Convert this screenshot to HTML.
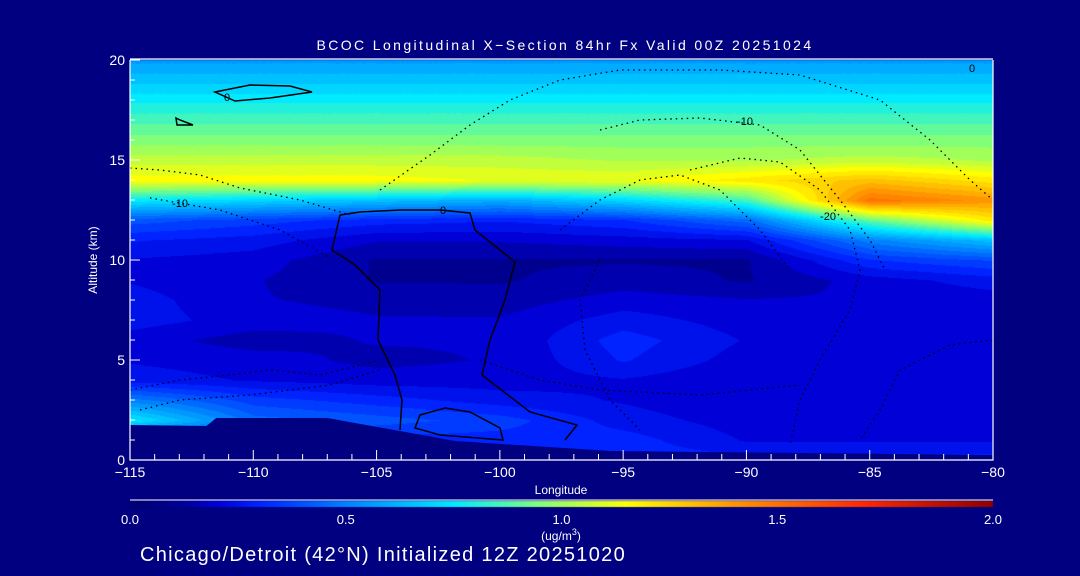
<!DOCTYPE html>
<html><head><meta charset="utf-8"><style>
html,body{margin:0;padding:0;background:#000080;}
#wrap{position:relative;width:1080px;height:576px;background:#000080;overflow:hidden;font-family:"Liberation Sans",sans-serif;color:#fff;}
canvas{position:absolute;left:0;top:0;}
svg{position:absolute;left:0;top:0;}
</style></head><body>
<div id="wrap">
<canvas id="cv" width="1080" height="576"></canvas>
<svg id="sv" width="1080" height="576"></svg>
</div>
<script>
const lons=[-115,-110,-105,-100,-95,-90,-85,-80];
const alts=[0,1,2,3,4,5,6,7,8,9,10,11,12,13,14,15,16,17,18,19,20];
const col115=[0.3,0.3,0.75,0.5,0.25,0.22,0.2,0.25,0.25,0.22,0.22,0.28,0.4,0.75,1.15,1.05,0.95,0.86,0.76,0.66,0.56];
const col110=[0.3,0.3,0.45,0.35,0.22,0.2,0.15,0.2,0.18,0.18,0.2,0.25,0.35,0.7,1.15,1.05,0.95,0.86,0.76,0.66,0.56];
const col105=[0.3,0.3,0.4,0.3,0.2,0.16,0.18,0.18,0.16,0.12,0.12,0.18,0.3,0.65,1.15,1.05,0.95,0.86,0.76,0.66,0.56];
const col100=[0.3,0.3,0.35,0.25,0.2,0.18,0.18,0.18,0.15,0.12,0.12,0.18,0.28,0.6,1.12,1.05,0.95,0.86,0.76,0.66,0.56];
const col95=[0.3,0.3,0.25,0.22,0.22,0.28,0.3,0.25,0.2,0.15,0.12,0.2,0.32,0.7,1.12,1.02,0.95,0.86,0.76,0.66,0.56];
const col90=[0.3,0.22,0.2,0.18,0.18,0.2,0.22,0.2,0.18,0.12,0.12,0.22,0.45,0.85,1.2,1.02,0.95,0.86,0.76,0.66,0.56];
const col85=[0.3,0.22,0.2,0.18,0.18,0.2,0.22,0.2,0.18,0.2,0.32,0.5,0.9,1.5,1.3,1.05,0.95,0.86,0.76,0.66,0.56];
const col80=[0.3,0.22,0.2,0.18,0.2,0.22,0.2,0.2,0.2,0.25,0.38,0.65,1.2,1.4,1.2,1.02,0.95,0.86,0.76,0.66,0.56];
const grid=[col115,col110,col105,col100,col95,col90,col85,col80];
const terrainLon=[-115,-111.9,-111.5,-107,-101.8,-95.5,-80];
const terrainAlt=[1.75,1.7,2.1,2.1,0.95,0.45,0.25];
const xTicks=[-115,-110,-105,-100,-95,-90,-85,-80];
const yTicks=[0,5,10,15,20];
const cbTicks=[0,0.5,1.0,1.5,2.0];

const X0=130,X1=993,Y0=460,Y1=60;
const xs=l=>X0+(l+115)/35*(X1-X0);
const ys=a=>Y0-a/20*(Y0-Y1);
const stops=[[0,[0,0,110]],[0.12,[0,0,150]],[0.2,[0,0,215]],[0.3,[0,35,255]],[0.5,[0,130,255]],[0.75,[0,235,255]],[0.95,[130,255,120]],[1.15,[255,255,0]],[1.4,[255,150,0]],[1.7,[255,40,0]],[2.0,[140,0,0]]];
function cmap(v){v=Math.max(0,Math.min(2,v));for(let i=1;i<stops.length;i++){if(v<=stops[i][0]){const a=stops[i-1],b=stops[i],t=(v-a[0])/(b[0]-a[0]);return a[1].map((c,k)=>Math.round(c+(b[1][k]-c)*t));}}return stops[stops.length-1][1];}
function val(lon,alt){let fi=(lon+115)/5,fj=alt;fi=Math.max(0,Math.min(lons.length-1.0001,fi));fj=Math.max(0,Math.min(alts.length-1.0001,fj));const i=Math.floor(fi),j=Math.floor(fj),u=fi-i,w=fj-j;
return grid[i][j]*(1-u)*(1-w)+grid[i+1][j]*u*(1-w)+grid[i][j+1]*(1-u)*w+grid[i+1][j+1]*u*w;}
const cv=document.getElementById('cv'),ctx=cv.getContext('2d');
const img=ctx.createImageData(X1-X0,Y0-Y1);
for(let py=0;py<Y0-Y1;py++){for(let px=0;px<X1-X0;px++){const lon=-115+px/(X1-X0)*35,alt=(Y0-Y1-py)/(Y0-Y1)*20;let v=val(lon,alt);v=Math.round(v*20)/20;const c=cmap(v);const k=(py*(X1-X0)+px)*4;img.data[k]=c[0];img.data[k+1]=c[1];img.data[k+2]=c[2];img.data[k+3]=255;}}
ctx.putImageData(img,X0,Y1);
for(let px=X0;px<X1;px++){const c=cmap((px-X0)/(X1-X0)*2);ctx.fillStyle=`rgb(${c})`;ctx.fillRect(px,501,1,6);}
const NS='http://www.w3.org/2000/svg',sv=document.getElementById('sv');
function mk(tag,attrs,parent){const e=document.createElementNS(NS,tag);for(const k in attrs)e.setAttribute(k,attrs[k]);(parent||sv).appendChild(e);return e;}
let tp=terrainLon.map((l,i)=>xs(l)+','+ys(terrainAlt[i])).join(' ');
tp+=' '+X1+','+Y0+' '+X0+','+Y0;
const ter=mk('polygon',{points:tp,fill:'#000080'});


const solid=[
"M340,215 L360,212 L400,210 L440,210 L470,213 L475,230 L515,262 L505,300 L490,340 L482,375 L530,412 L577,425 L565,440",
"M340,215 L332,250 L355,265 L380,290 L378,340 L395,375 L402,400 L400,430",
"M420,415 L445,408 L470,412 L500,428 L503,440 L440,435 L415,428 Z",
"M215,92 L250,85 L290,86 L312,92 L270,98 L235,101 Z",
"M176,118 L180,120 L193,125 L177,125 Z"];
solid.forEach((d,i)=>{const p=mk('path',{d:d,fill:'none',stroke:'#000',"stroke-width":1.5});

});
const dotted=[
"M130,168 L160,170 L200,175 L240,188 L300,200 L350,215",
"M150,198 L220,210 L280,230 L330,258",
"M380,190 L430,155 L470,125 L510,100 L560,80 L620,70 L720,70 L800,75 L880,100 L930,140 L970,180 L993,200",
"M600,130 L640,120 L700,118 L760,125 L800,150 L840,200 L870,240 L885,270",
"M690,170 L740,158 L780,162 L820,190 L850,230 L860,270 L850,310 L820,360 L800,400 L790,445",
"M560,230 L600,200 L640,180 L680,175 L720,190 L760,230 L790,270",
"M600,260 L580,300 L585,350 L610,400 L640,430",
"M993,340 L950,345 L900,370 L880,410 L860,440",
"M130,390 L180,380 L230,375 L270,370 L320,375 L380,360",
"M140,410 L180,400 L250,395 L330,385 L380,370",
"M480,360 L540,380 L600,390 L700,395 L800,385"];
dotted.forEach((d,i)=>{const p=mk('path',{d:d,fill:'none',stroke:'#000',"stroke-width":1.3,"stroke-dasharray":"1.5 4"});

});
[["0",227,101],["0",443,214],["-10",180,207],["-10",745,125],["-20",828,220],["0",972,72]].forEach((t,i)=>{const e=mk('text',{x:t[1],y:t[2],fill:'#000','font-size':11,'text-anchor':'middle'});e.textContent=t[0];

});
const ax=mk('path',{d:`M${X0},${Y1} L${X0},${Y0} L${X1},${Y0} L${X1},${Y1} M${X0},${Y1-1} L${X1},${Y1-1}`,fill:'none',stroke:'#fff','stroke-width':1.2});


for(let l=-115;l<=-80;l++){const x=xs(l),len=(l%5===0)?10:6;const t=mk('line',{x1:x,x2:x,y1:Y0,y2:Y0-len,stroke:'#fff'});

}
xTicks.forEach(l=>{const e=mk('text',{x:xs(l),y:Y0+17,fill:'#fff','font-size':14,'text-anchor':'middle'});e.textContent=(l<0?'\u2212':'')+Math.abs(l);

});
for(let a=0;a<=20;a++){const y=ys(a),len=(a%5===0)?10:5;const t=mk('line',{x1:X0,x2:X0+len,y1:y,y2:y,stroke:'#fff'});

}
yTicks.forEach(a=>{const e=mk('text',{x:X0-5,y:ys(a)+5,fill:'#fff','font-size':14,'text-anchor':'end'});e.textContent=a;

});
const yt=mk('text',{x:97,y:260,fill:'#fff','font-size':12,'text-anchor':'middle',transform:'rotate(-90 97 260)'});yt.textContent='Altitude (km)';


const xt=mk('text',{x:561,y:494,fill:'#fff','font-size':12,'text-anchor':'middle'});xt.textContent='Longitude';


const tt=mk('text',{x:565,y:50,fill:'#fff','font-size':14,'text-anchor':'middle','letter-spacing':'2.4'});tt.textContent='BCOC Longitudinal X\u2212Section 84hr  Fx Valid 00Z 20251024';


const cl=mk('line',{x1:X0,x2:X1,y1:500,y2:500,stroke:'#fff'});


cbTicks.forEach(v=>{const e=mk('text',{x:X0+v/2*(X1-X0),y:524,fill:'#fff','font-size':13,'text-anchor':'middle'});e.textContent=v.toFixed(1);

});
const un=mk('text',{x:561,y:540,fill:'#fff','font-size':12,'text-anchor':'middle'});un.innerHTML='(ug/m<tspan dy="-5" font-size="9">3</tspan><tspan dy="5">)</tspan>';


const cap=mk('text',{x:140,y:561,fill:'#fff','font-size':20,'letter-spacing':'1.3'});cap.textContent='Chicago/Detroit (42\u00B0N) Initialized 12Z 20251020';


</script>
</body></html>
